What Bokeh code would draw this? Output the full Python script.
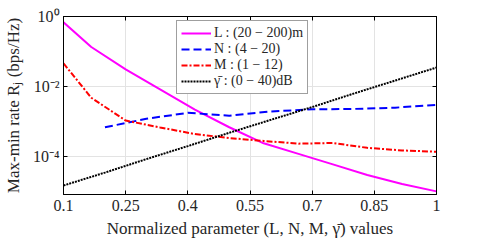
from bokeh.plotting import figure
from bokeh.models import (Range1d, FixedTicker, Legend, LegendItem, LinearAxis, LogAxis,
                          CustomJSTickFormatter)
from bokeh.embed import file_html
from bokeh.resources import INLINE

# ---- data ----
x_L = [0.1, 0.167, 0.25, 0.333, 0.417, 0.5, 0.583, 0.667, 0.75, 0.833, 0.917, 1.0]
rate_L = [0.68, 0.135, 0.031, 0.0083, 0.0022, 6.9e-4, 2.4e-4, 1.2e-4, 6.0e-5, 3.0e-5, 1.66e-5, 1.02e-5]

x_M = [0.1, 0.167, 0.25, 0.333, 0.417, 0.5, 0.583, 0.667, 0.75, 0.833, 0.917, 1.0]
rate_M = [0.046, 0.0048, 0.00107, 6.8e-4, 4.4e-4, 3.4e-4, 2.8e-4, 2.35e-4, 2.45e-4, 1.78e-4, 1.5e-4, 1.38e-4]

x_N = [0.2, 0.3, 0.4, 0.5, 0.6, 0.7, 0.8, 0.9, 1.0]
rate_N = [6.9e-4, 1.2e-3, 1.78e-3, 1.48e-3, 1.95e-3, 2.24e-3, 2.3e-3, 2.5e-3, 3.0e-3]

x_G = [0.1, 0.2, 0.3, 0.4, 0.5, 0.6, 0.7, 0.8, 0.9, 1.0]
rate_G = [1.5e-5, 3.5e-5, 8.5e-5, 2.0e-4, 4.8e-4, 1.12e-3, 2.6e-3, 6.3e-3, 0.0148, 0.035]

series_labels = ["L : (20 \u2212 200)m", "N : (4 \u2212 20)", "M : (1 \u2212 12)",
                 "\u03b3\u0304 : (0 \u2212 40)dB"]

x_ticks = [0.1, 0.25, 0.4, 0.55, 0.7, 0.85, 1.0]
x_tick_labels = ["0.1", "0.25", "0.4", "0.55", "0.7", "0.85", "1"]
y_ticks = [1e-4, 1e-2, 1.0]
y_tick_labels = ["10\u207b\u2074", "10\u207b\u00b2", "10\u2070"]

FONT = "Liberation Serif"
TXT = "#262626"

p = figure(width=480, height=240, output_backend="svg", toolbar_location=None,
           y_axis_type="log",
           x_range=Range1d(0.1, 1.0), y_range=Range1d(8.3e-6, 1.0),
           min_border_left=62, min_border_top=16, min_border_bottom=45, min_border_right=44)
p.outline_line_color = "black"
p.outline_line_width = 1
p.background_fill_color = "white"
p.border_fill_color = "white"

r_L = p.line(x_L, rate_L, line_color="#FF00FF", line_width=2)
r_N = p.line(x_N, rate_N, line_color="#0000FF", line_width=2, line_dash="8 4")
r_M = p.line(x_M, rate_M, line_color="#FF0000", line_width=2, line_dash="6 2 2 2")
r_G = p.line(x_G, rate_G, line_color="black", line_width=2, line_dash="2 1")

xo = {v: s for v, s in zip(x_ticks, x_tick_labels)}
yo = {v: s for v, s in zip(y_ticks, y_tick_labels)}

for ax in p.xaxis:
    ax.ticker = FixedTicker(ticks=x_ticks)
    ax.major_label_overrides = xo
for ax in p.yaxis:
    ax.ticker = FixedTicker(ticks=y_ticks)
    ax.major_label_overrides = yo

for ax in list(p.xaxis) + list(p.yaxis):
    ax.major_tick_in = 4
    ax.major_tick_out = 0
    ax.minor_tick_line_color = None
    ax.axis_line_color = "black"
    ax.major_tick_line_color = "black"
    ax.major_label_text_font = FONT
    ax.major_label_text_font_size = "16px"
    ax.major_label_text_color = TXT
    ax.axis_label_text_font = FONT
    ax.axis_label_text_font_size = "17px"
    ax.axis_label_text_font_style = "normal"
    ax.axis_label_text_color = TXT

p.xaxis.axis_label = "Normalized parameter (L, N, M, \u03b3\u0304) values"
p.yaxis.axis_label = "Max-min rate R\u2C7C (bps/Hz)"
p.xaxis.major_label_standoff = 5
p.xaxis.axis_label_standoff = 5
p.yaxis.axis_label_standoff = 7
p.yaxis.major_label_standoff = 4

# mirrored ticks on top and right (no labels)
blank = CustomJSTickFormatter(code="return ''")
top = LinearAxis(ticker=FixedTicker(ticks=x_ticks), formatter=blank,
                 major_tick_in=4, major_tick_out=0, minor_tick_line_color=None,
                 major_label_standoff=0, axis_line_color="black")
right = LogAxis(ticker=FixedTicker(ticks=y_ticks), formatter=blank,
                major_tick_in=4, major_tick_out=0, minor_tick_line_color=None,
                major_label_standoff=0, axis_line_color="black")
p.add_layout(top, "above")
p.add_layout(right, "right")

p.xgrid.ticker = FixedTicker(ticks=x_ticks)
p.ygrid.ticker = FixedTicker(ticks=y_ticks)
p.grid.grid_line_color = "#e3e3e3"
p.grid.grid_line_width = 1

legend = Legend(items=[LegendItem(label=series_labels[0], renderers=[r_L]),
                       LegendItem(label=series_labels[1], renderers=[r_N]),
                       LegendItem(label=series_labels[2], renderers=[r_M]),
                       LegendItem(label=series_labels[3], renderers=[r_G])],
                location=(113, 100))
legend.label_text_font = FONT
legend.label_text_font_size = "14px"
legend.label_text_color = TXT
legend.label_height = 16
legend.glyph_height = 16
legend.glyph_width = 30
legend.label_standoff = 3
legend.spacing = 0
legend.padding = 4
legend.margin = 0
legend.border_line_color = "#404040"
legend.border_line_width = 1
legend.background_fill_alpha = 1
p.add_layout(legend)

open("out.html", "w").write(file_html(p, INLINE))
